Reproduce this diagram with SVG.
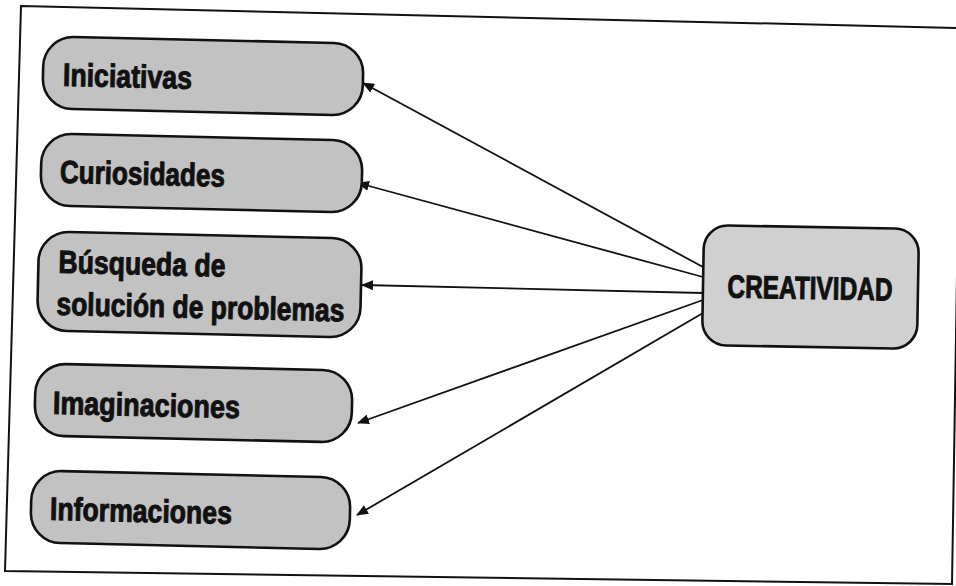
<svg xmlns="http://www.w3.org/2000/svg" width="956" height="586" viewBox="0 0 956 586">
  <style>
    .node { fill: #c2c2c2; stroke: #111; stroke-width: 2.6; }
    .center { fill: #d0d0d0; stroke: #111; stroke-width: 2.6; }
    .lbl { font-family: "Liberation Sans", Arial, sans-serif; font-weight: bold; font-size: 32px; fill: #111; stroke: #111; stroke-width: 1; }
    .edge { stroke: #111; stroke-width: 1.8; fill: none; marker-end: url(#arrow); }
    .frame { fill: #fff; stroke: #111; stroke-width: 2; }
  </style>
  <defs>
    <marker id="arrow" markerUnits="userSpaceOnUse" markerWidth="12" markerHeight="10" refX="11" refY="5" orient="auto">
      <path d="M0,0 L12,5 L0,10 Z" fill="#111"/>
    </marker>
  </defs>
  <rect x="0" y="0" width="956" height="586" fill="#fff"/>
  <polygon class="frame" points="21,6 961,28 952,584 5,571"/>

  <g id="connectors">
    <line class="edge" x1="703" y1="267" x2="363" y2="83"/>
    <line class="edge" x1="703" y1="277" x2="358" y2="183"/>
    <line class="edge" x1="703" y1="293" x2="362" y2="285"/>
    <line class="edge" x1="703" y1="300" x2="358" y2="423"/>
    <line class="edge" x1="703" y1="313" x2="357" y2="515"/>
  </g>

  <g id="iniciativas" transform="translate(203,76) rotate(1.3)">
    <rect class="node" x="-160" y="-36" width="320" height="72" rx="30"/>
    <text class="lbl" x="-140" y="13" textLength="129" lengthAdjust="spacingAndGlyphs">Iniciativas</text>
  </g>
  <g id="curiosidades" transform="translate(201,173) rotate(1.3)">
    <rect class="node" x="-160" y="-36" width="321" height="72" rx="30"/>
    <text class="lbl" x="-141" y="13" textLength="165" lengthAdjust="spacingAndGlyphs">Curiosidades</text>
  </g>
  <g id="busqueda" transform="translate(199,284) rotate(1.3)">
    <rect class="node" x="-161" y="-49" width="323" height="99" rx="30"/>
    <text class="lbl" x="-141" y="-8" textLength="167" lengthAdjust="spacingAndGlyphs">Búsqueda de</text>
    <text class="lbl" x="-142" y="34" textLength="288" lengthAdjust="spacingAndGlyphs">solución de problemas</text>
  </g>
  <g id="imaginaciones" transform="translate(193,403) rotate(1.3)">
    <rect class="node" x="-158" y="-36" width="317" height="72" rx="30"/>
    <text class="lbl" x="-140" y="14" textLength="187" lengthAdjust="spacingAndGlyphs">Imaginaciones</text>
  </g>
  <g id="informaciones" transform="translate(190,510) rotate(1.3)">
    <rect class="node" x="-159" y="-36" width="319" height="72" rx="30"/>
    <text class="lbl" x="-140" y="13" textLength="182" lengthAdjust="spacingAndGlyphs">Informaciones</text>
  </g>
  <g id="creatividad" transform="translate(810,287) rotate(1)">
    <rect class="center" x="-107" y="-60" width="215" height="120" rx="24"/>
    <text class="lbl" x="0" y="12" text-anchor="middle" textLength="165" lengthAdjust="spacingAndGlyphs">CREATIVIDAD</text>
  </g>
</svg>
